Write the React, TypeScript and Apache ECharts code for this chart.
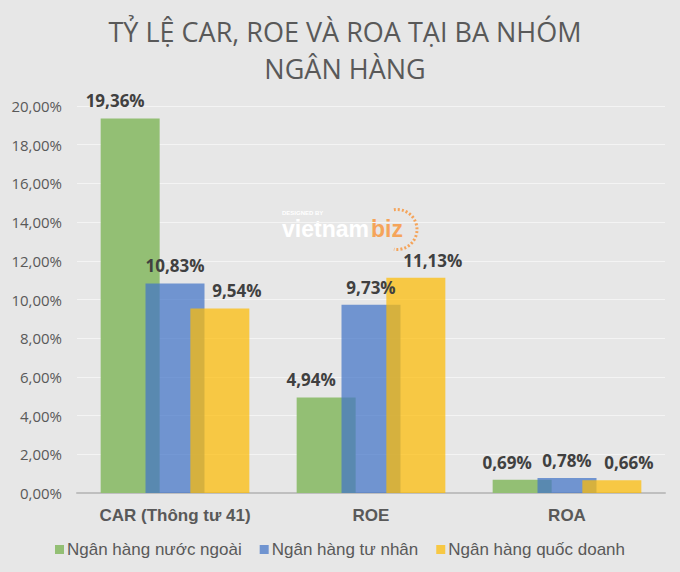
import React, { useEffect, useRef } from "react";
import * as echarts from "echarts";

const categories = ["CAR (Thông tư 41)", "ROE", "ROA"];
const seriesNames = ["Ngân hàng nước ngoài", "Ngân hàng tư nhân", "Ngân hàng quốc doanh"];
const foreignBanks = [19.36, 4.94, 0.69];
const privateBanks = [10.83, 9.73, 0.78];
const stateBanks = [9.54, 11.13, 0.66];
const titleText = "TỶ LỆ CAR, ROE VÀ ROA TẠI BA NHÓM\nNGÂN HÀNG";

const fmt = (v: number) => v.toFixed(2).replace(".", ",") + "%";

export default function App() {
  const ref = useRef<HTMLDivElement>(null);
  useEffect(() => {
    document.body.style.margin = "0";
    const chart = echarts.init(ref.current!, null, { renderer: "svg" });
    const colors = ["#93bf74", "rgba(67,117,199,0.72)", "rgba(253,189,6,0.72)"];
    const datasets = [foreignBanks, privateBanks, stateBanks];
    const offsets = [[-15, 0], [0, 0], [17, 0]];
    chart.setOption({
      animation: false,
      backgroundColor: "#e7e7e7",
      title: {
        text: titleText,
        left: 340,
        top: 8,
        textAlign: "center",
        textStyle: {
          fontFamily: "Open Sans",
          fontSize: 27,
          fontWeight: "normal",
          color: "#595959",
          lineHeight: 37,
        },
      },
      grid: { left: 77, right: 15, top: 106, bottom: 79 },
      legend: {
        bottom: 9,
        left: "center",
        icon: "rect",
        itemWidth: 9,
        itemHeight: 9,
        itemGap: 18,
        textStyle: { fontFamily: "Liberation Sans", fontSize: 17, color: "#595959", padding: [0, 0, 0, -2] },
        data: seriesNames,
      },
      xAxis: {
        type: "category",
        data: categories,
        axisLine: { lineStyle: { color: "#bfbfbf", width: 2 } },
        axisTick: { show: false },
        axisLabel: {
          interval: 0,
          hideOverlap: false,
          fontFamily: "Liberation Sans",
          fontWeight: "bold",
          fontSize: 17,
          color: "#595959",
          margin: 14,
        },
      },
      yAxis: {
        type: "value",
        min: 0,
        max: 20,
        interval: 2,
        axisLabel: {
          formatter: (v: number) => fmt(v),
          fontFamily: "Open Sans",
          fontSize: 15,
          color: "#595959",
          margin: 15,
        },
        splitLine: { lineStyle: { color: "#f4f4f4", width: 1 } },
        axisLine: { show: false },
        axisTick: { show: false },
      },
      graphic: [
        {
          type: "group",
          left: 282,
          top: 207,
          silent: true,
          children: [
            { type: "text", x: 0, y: 0, style: { text: "DESIGNED BY", fill: "#ffffff", fontSize: 6, fontFamily: "Liberation Sans", fontWeight: "bold" } },
            { type: "text", x: 0, y: 8, style: { text: "vietnam", fill: "#ffffff", fontSize: 23, fontFamily: "Liberation Sans", fontWeight: "bold" } },
            { type: "text", x: 89, y: 8, style: { text: "biz", fill: "#f5a45a", fontSize: 23, fontFamily: "Liberation Sans", fontWeight: "bold" } },
            {
              type: "arc",
              shape: { cx: 115, cy: 20, r: 20, startAngle: -Math.PI * 0.55, endAngle: Math.PI * 0.55 },
              style: { stroke: "#f5a45a", lineWidth: 3, lineDash: [2, 2], fill: "none" },
            },
          ],
        },
      ],
      series: seriesNames.map((name, i) => ({
        name,
        type: "bar",
        data: datasets[i],
        barWidth: 59,
        barGap: "-24%",
        itemStyle: { color: colors[i] },
        label: {
          show: true,
          position: "top",
          distance: 9,
          offset: offsets[i],
          formatter: (p: any) => fmt(p.value),
          fontFamily: "Open Sans",
          fontWeight: "bold",
          fontSize: 17,
          color: "#404040",
        },
      })),
    });
    return () => chart.dispose();
  }, []);
  return <div ref={ref} style={{ position: "absolute", left: 0, top: 0, width: 680, height: 572 }} />;
}
